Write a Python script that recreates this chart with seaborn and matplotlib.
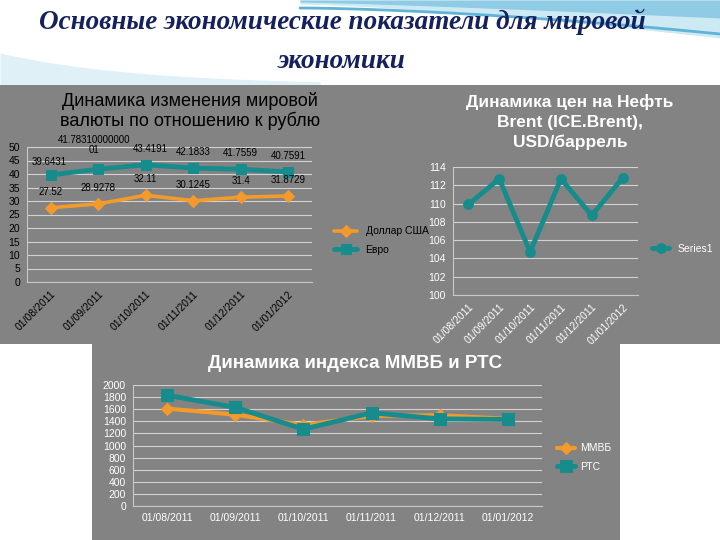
import numpy as np
import pandas as pd
import matplotlib
matplotlib.use("Agg")
import matplotlib.pyplot as plt
from matplotlib.patches import Rectangle
import seaborn as sns

# данные
dates = ["01/08/2011", "01/09/2011", "01/10/2011", "01/11/2011", "01/12/2011", "01/01/2012"]
usd = [27.52, 28.9278, 32.11, 30.1245, 31.4, 31.8729]
eur = [39.6431, 41.7831000000001, 43.4191, 42.1833, 41.7559, 40.7591]
brent = [109.9, 112.7, 104.7, 112.7, 108.7, 112.8]
micex = [1610, 1510, 1340, 1490, 1500, 1440]
rts = [1830, 1630, 1270, 1540, 1440, 1430]

W, H = 720, 540
GRAY = "#838383"
ORANGE = "#f39a2b"
TEAL = "#178c8c"


def box(l, t, r, b):
    return [l / W, 1 - b / H, (r - l) / W, (b - t) / H]


def style(ax, color, lo, hi, step):
    ax.set_facecolor("none")
    ax.set_ylim(lo, hi)
    ax.set_yticks(np.arange(lo, hi + 1, step))
    ax.set_xlim(-0.5, len(dates) - 0.5)
    ax.grid(axis="y", color="#d2d2d2", lw=0.8)
    ax.grid(axis="x", visible=False)
    ax.set_axisbelow(True)
    for s in ["top", "right"]:
        ax.spines[s].set_visible(False)
    for s in ["left", "bottom"]:
        ax.spines[s].set_color("#c8c8c8")
    ax.tick_params(colors=color, labelcolor=color, labelsize=7.5, length=0, pad=5)
    ax.set_xlabel("")
    ax.set_ylabel("")


sns.set_style("white")
plt.rcParams["font.family"] = ["Liberation Sans", "DejaVu Sans"]

fig = plt.figure(figsize=(7.2, 5.4), dpi=100, facecolor="white")

# фон слайда
bg = fig.add_axes([0, 0, 1, 1], zorder=0)
bg.set_xlim(0, W)
bg.set_ylim(H, 0)
bg.axis("off")
xs = np.linspace(300, W, 200)
t = (xs - 300) / (W - 300)
bg.fill_between(xs, 0, 4 + 34 * t ** 1.4, color="#cde9f4", lw=0)
bg.fill_between(xs, 0, 2 + 16 * t ** 1.2, color="#8fcbe4", lw=0)
bg.plot(xs, 8 + 26 * t ** 1.6, color="#5fb3d6", lw=2)
xl = np.linspace(0, 320, 200)
bg.fill_between(xl, 85, 85 - 32 * np.exp(-xl / 140), color="#dff0f7", lw=0)
bg.add_patch(Rectangle((0, 85), W, 259, color=GRAY, lw=0))
bg.add_patch(Rectangle((92, 344), 528, 196, color=GRAY, lw=0))

for txt, y in [("Основные экономические показатели для мировой", 22), ("экономики", 62)]:
    fig.text(342 / W, 1 - y / H, txt, ha="center", va="center", fontsize=19.5,
             color="#15205e", family=["Liberation Serif", "DejaVu Serif"],
             style="italic", weight="bold")

# 1. Курсы валют
ax1 = fig.add_axes(box(27, 147, 312, 282))
cur = pd.DataFrame({"date": dates, "usd": usd, "eur": eur})
sns.lineplot(data=cur, x="date", y="usd", color=ORANGE, marker="D", markersize=6,
             markeredgecolor=ORANGE, linewidth=2.6, sort=False, legend=False, ax=ax1)
sns.lineplot(data=cur, x="date", y="eur", color=TEAL, marker="s", markersize=7.5,
             markeredgecolor=TEAL, linewidth=3.5, sort=False, legend=False, ax=ax1)
style(ax1, "black", 0, 50, 5)
for lab in ax1.get_xticklabels():
    lab.set_rotation(45)
    lab.set_ha("right")
    lab.set_rotation_mode("anchor")
for i, (u, e) in enumerate(zip(usd, eur)):
    for v in (u, e):
        s = str(v)
        dx, dy = 0, 8
        if len(s) > 14:
            s = s[:14] + "\n" + s[14:]
            dx, dy = -3, 10.5
        elif v == e and i == 2:
            dx = 3
        elif v == e and i == 0:
            dx, dy = -1, 6
        ax1.annotate(s, (i, v), xytext=(dx, dy), textcoords="offset points",
                     ha="center", va="bottom", fontsize=7, color="black",
                     linespacing=1.0)
fig.legend(handles=ax1.lines[:2], labels=["Доллар США", "Евро"], loc="upper left",
           bbox_to_anchor=(325 / W, 1 - 217 / H), frameon=False, fontsize=7.5,
           handlelength=2.2, labelspacing=0.8, labelcolor="black")
fig.text(190 / W, 1 - 111 / H, "Динамика изменения мировой\nвалюты по отношению к рублю",
         ha="center", va="center", fontsize=13, color="black", linespacing=1.15)

# 2. Нефть Brent
ax2 = fig.add_axes(box(453, 167, 638, 295))
oil = pd.DataFrame({"date": dates, "brent": brent})
sns.lineplot(data=oil, x="date", y="brent", color=TEAL, marker="o", markersize=7,
             markeredgecolor=TEAL, linewidth=3.5, sort=False, legend=False, ax=ax2)
style(ax2, "white", 100, 114, 2)
for lab in ax2.get_xticklabels():
    lab.set_rotation(45)
    lab.set_ha("right")
    lab.set_rotation_mode("anchor")
fig.legend(handles=ax2.lines[:1], labels=["Series1"], loc="center left",
           bbox_to_anchor=(643 / W, 1 - 249 / H), frameon=False, fontsize=7.5,
           handlelength=1.6, labelcolor="white")
fig.text(570 / W, 1 - 122 / H, "Динамика цен на Нефть\nBrent (ICE.Brent),\nUSD/баррель",
         ha="center", va="center", fontsize=12.5, color="white", weight="bold",
         linespacing=1.4)

# 3. ММВБ и РТС
ax3 = fig.add_axes(box(133, 385, 542, 506))
idx = pd.DataFrame({"date": dates, "micex": micex, "rts": rts})
sns.lineplot(data=idx, x="date", y="micex", color=ORANGE, marker="D", markersize=6,
             markeredgecolor=ORANGE, linewidth=3, sort=False, legend=False, ax=ax3)
sns.lineplot(data=idx, x="date", y="rts", color=TEAL, marker="s", markersize=8,
             markeredgecolor=TEAL, linewidth=3.5, sort=False, legend=False, ax=ax3)
style(ax3, "white", 0, 2000, 200)
fig.legend(handles=ax3.lines[:2], labels=["ММВБ", "РТС"], loc="upper left",
           bbox_to_anchor=(548 / W, 1 - 434 / H), frameon=False, fontsize=7.5,
           handlelength=1.7, handletextpad=0.5, labelspacing=0.8, labelcolor="white")
fig.text(355 / W, 1 - 363 / H, "Динамика индекса ММВБ и РТС",
         ha="center", va="center", fontsize=13.5, color="white", weight="bold")

fig.savefig("out.png", dpi=100, facecolor=fig.get_facecolor())
